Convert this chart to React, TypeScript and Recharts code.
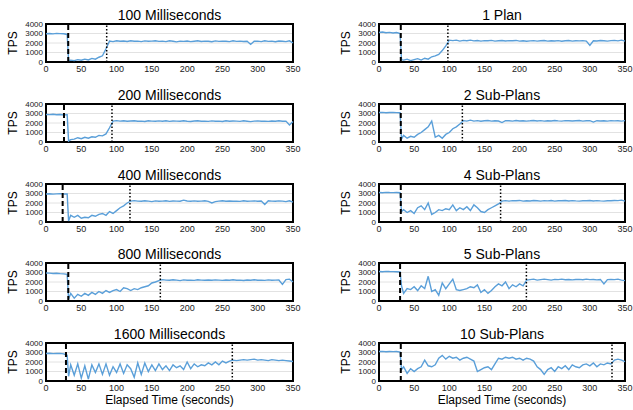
import React from "react";
import {
  LineChart,
  Line,
  XAxis,
  YAxis,
  CartesianGrid,
  ReferenceLine,
  ReferenceArea,
  Label,
} from "recharts";

// sample times (seconds); 32 is there to keep the drop after the switch sharp
const seconds = [
  0, 5, 10, 15, 20, 25, 30, 32,
  35, 40, 45, 50, 55, 60, 65, 70, 75, 80,
  85, 90, 95, 100, 105, 110, 115, 120, 125, 130,
  135, 140, 145, 150, 155, 160, 165, 170, 175, 180,
  185, 190, 195, 200, 205, 210, 215, 220, 225, 230,
  235, 240, 245, 250, 255, 260, 265, 270, 275, 280,
  285, 290, 295, 300, 305, 310, 315, 320, 325, 330,
  335, 340, 345, 350,
];

const ms100 = [
  2980, 3000, 2960, 3010, 2990, 2970, 2900, 150,
  200, 150, 250, 180, 300, 220, 380, 300, 500, 650,
  1400, 2200, 2150, 2230, 2180, 2210, 2160, 2240, 2190, 2200,
  2150, 2220, 2180, 2200, 2240, 2170, 2200, 2150, 2230, 2180,
  2120, 2200, 2170, 2210, 2150, 2190, 2230, 2160, 2200, 2180,
  2140, 2220, 2170, 2200, 2190, 2150, 2230, 2170, 2200, 2160,
  2190, 1850, 2180, 2200, 2150, 2230, 2170, 2200, 2140, 2210,
  2180, 2150, 2230, 2000,
];

const ms200 = [
  2900, 2880, 2920, 2870, 2900, 2850, 2880, 100,
  250, 300, 450, 350, 500, 400, 550, 500, 700, 650,
  850, 1500, 2200, 2250, 2200, 2230, 2180, 2210, 2240, 2190,
  2200, 2160, 2230, 2200, 2180, 2220, 2190, 2240, 2170, 2210,
  2200, 2180, 2230, 2190, 2160, 2210, 2230, 2180, 2200, 2170,
  2220, 2190, 2200, 2160, 2230, 2180, 2210, 2200, 2170, 2230,
  2190, 2150, 2200, 2220, 2180, 2200, 2170, 2210, 2190, 2230,
  2180, 2200, 1800, 2150,
];

const ms400 = [
  2950, 2980, 2930, 2960, 2990, 2940, 2950, 100,
  700, 500, 700, 400, 500, 450, 700, 600, 800, 900,
  700, 1100, 900, 1200, 1500, 1700, 2000, 2200, 2250, 2200,
  2180, 2230, 2200, 2150, 2220, 2190, 2200, 2240, 2170, 2210,
  2200, 2180, 2300, 2210, 2190, 2220, 2180, 2200, 2230, 2170,
  2000, 2150, 2200, 2230, 2180, 2210, 2190, 2200, 2170, 2230,
  2180, 2200, 2220, 2190, 2210, 1850, 2230, 2200, 2180, 2220,
  2200, 2150, 2230, 2100,
];

const ms800 = [
  2950, 2930, 2900, 2920, 2880, 2860, 2800, 200,
  800, 300, 700, 500, 800, 600, 900, 700, 1000, 800,
  1100, 900, 1100, 1200, 1000, 1400, 1300, 1100, 1300, 1200,
  1400, 1500, 1600, 1900, 2000, 2150, 2250, 2200, 2180, 2230,
  2200, 2150, 2220, 2190, 2200, 2170, 2230, 2200, 2180, 2210,
  2190, 2220, 2200, 2170, 2210, 2190, 2230, 2180, 2200, 2160,
  2210, 2190, 2230, 2180, 2200, 2170, 2220, 2190, 2200, 2210,
  1750, 2250, 2300, 2000,
];

const ms1600 = [
  2900, 2920, 2880, 2900, 2910, 2850, 2700, 500,
  1700, 600, 1800, 300, 1600, 200, 1700, 900, 1800, 700,
  1800, 600, 1500, 900, 1800, 800, 1700, 1300, 400, 1900,
  700, 1900, 1000, 1700, 1100, 1800, 1200, 1600, 1100, 1700,
  1400, 1600, 1200, 2000, 1300, 1800, 1500, 1700, 1600, 1900,
  1700, 2000, 1700, 2100, 1900, 2100, 2200, 2150, 2200, 2250,
  2200, 2250, 2300, 2200, 2250, 2200, 2150, 2250, 2200, 2150,
  2200, 2150, 2100, 2050,
];

const plan1 = [
  3100, 3150, 3080, 3120, 3050, 3100, 3000, 250,
  200, 300, 150, 250, 350, 200, 400, 300, 550, 650,
  800, 1200, 1700, 2300, 2250, 2300, 2200, 2280, 2240, 2300,
  2220, 2260, 2200, 2250, 2230, 2280, 2200, 2240, 2260, 2210,
  2250, 2230, 2270, 2200, 2240, 2180, 2220, 2250, 2200, 2230,
  2260, 2200, 2240, 2210, 2250, 2190, 2230, 2260, 2200, 2240,
  2220, 2250, 2200, 1750, 2240, 2210, 2260, 2230, 2200, 2250,
  2280, 2220, 2300, 2200,
];

const sub2 = [
  3100, 3120, 3080, 3100, 3110, 3090, 3080, 300,
  700, 400, 600, 500, 800, 1000, 1300, 1600, 2200, 500,
  700, 400, 800, 1000, 1400, 1600, 1900, 2250, 2200, 2300,
  2200, 2250, 2180, 2230, 2260, 2200, 2240, 2210, 2050, 2250,
  2230, 2200, 2260, 2210, 2240, 2200, 2230, 2270, 2210, 2250,
  2200, 2240, 2210, 2260, 2220, 2200, 2250, 2230, 2210, 2240,
  2260, 2200, 2230, 2250, 2100, 2240, 2210, 2230, 2200, 2250,
  2220, 2240, 2200, 2250,
];

const sub4 = [
  3100, 3080, 3120, 3100, 3090, 3110, 3080, 1100,
  1300, 1000, 1200, 900, 1500, 1700, 1300, 2000, 800, 1000,
  1300, 1200, 1400, 1300, 1800, 1200, 1500, 1300, 1600, 1200,
  1800, 1500, 1100, 1000, 1300, 1500, 1700, 1900, 2200, 2250,
  2200, 2250, 2230, 2270, 2200, 2240, 2210, 2260, 2230, 2200,
  2250, 2220, 2260, 2200, 2240, 2230, 2270, 2210, 2250, 2220,
  2200, 2240, 2230, 2260, 2210, 2250, 2220, 2200, 2240, 2230,
  2270, 2250, 2300, 2200,
];

const sub5 = [
  3100, 3080, 3120, 3100, 3090, 3080, 3050, 1600,
  800, 1300, 1200, 1500, 1100, 1600, 1300, 2600, 1000, 1200,
  600, 1900, 1300, 1800, 2300, 1200, 1100, 1200, 1300, 1500,
  1400, 1700, 900, 1200, 800, 1100, 1500, 1800, 1600, 2000,
  1300, 1700, 1500, 1800, 1600, 2200, 2250, 2300, 2200, 2250,
  2300, 2250, 2200, 2280, 2250, 2300, 2240, 2270, 2220, 2260,
  2280, 2240, 2300, 2250, 2260, 2220, 2270, 1800, 2250, 2280,
  2250, 2300, 2200, 2150,
];

const sub10 = [
  3100, 3120, 3080, 3100, 3090, 3110, 3050, 1200,
  1500, 800, 1300, 1000, 1300, 1500, 2200, 1600, 1500, 1700,
  2400, 2700, 2300, 2600, 2400, 2500, 2200, 2400, 2500, 2300,
  2100, 1000, 1200, 1400, 1500, 1200, 1800, 2400, 2300, 2500,
  2400, 2500, 2300, 2400, 2200, 2400, 2300, 2100, 1500, 1200,
  700, 1200, 1400, 1000, 1500, 1300, 1600, 1200, 1700, 1500,
  1400, 1700, 1800, 1600, 1900, 1500, 1800, 1700, 1900, 1800,
  2200, 2300, 2200, 2050,
];

// left column first, then right column
const seriesKeys = ["ms100", "ms200", "ms400", "ms800", "ms1600", "plan1", "sub2", "sub4", "sub5", "sub10"];
const titles = [
  "100 Milliseconds",
  "200 Milliseconds",
  "400 Milliseconds",
  "800 Milliseconds",
  "1600 Milliseconds",
  "1 Plan",
  "2 Sub-Plans",
  "4 Sub-Plans",
  "5 Sub-Plans",
  "10 Sub-Plans",
];
const switchAt = [31.5, 25.5, 23.6, 31.6, 28.3, 31, 31, 31, 30, 31];
const recoveredAt = [86, 93.5, 119, 162, 264, 98, 118.6, 173, 209.7, 331.5];

const xTicks = [0, 50, 100, 150, 200, 250, 300, 350];
const yTicks = [0, 1000, 2000, 3000, 4000];

const rows = seconds.map((t, i) => ({
  t,
  ms100: ms100[i],
  ms200: ms200[i],
  ms400: ms400[i],
  ms800: ms800[i],
  ms1600: ms1600[i],
  plan1: plan1[i],
  sub2: sub2[i],
  sub4: sub4[i],
  sub5: sub5[i],
  sub10: sub10[i],
}));

const FONT = '"Liberation Sans", Arial, Helvetica, sans-serif';
const BLUE = "#5a9fd9";
const PLOT_LEFT = [46, 379];
const PLOT_W = [247, 246];
const ROW_TOP = [24, 104, 184, 263, 343];
const PLOT_H = 38;

const TpsLabel = (props: any) => {
  const vb = props.viewBox;
  const cx = vb.x + 2.5;
  const cy = vb.y + vb.height / 2;
  return (
    <text
      x={cx}
      y={cy}
      transform={`rotate(-90 ${cx} ${cy})`}
      textAnchor="middle"
      dominantBaseline="central"
      fontSize={12}
      fill="#000"
      fontFamily={FONT}
    >
      TPS
    </text>
  );
};

const TimeLabel = (props: any) => {
  const vb = props.viewBox;
  return (
    <text x={vb.x + vb.width / 2} y={vb.y + 23} textAnchor="middle" fontSize={12} fill="#000" fontFamily={FONT}>
      Elapsed Time (seconds)
    </text>
  );
};

function Panel({ index }: { index: number }) {
  const col = index < 5 ? 0 : 1;
  const row = index % 5;
  const left = PLOT_LEFT[col];
  const top = ROW_TOP[row];
  const w = PLOT_W[col];
  const isBottom = row === 4;
  const xAxisH = isBottom ? 34 : 14;

  return (
    <>
      <div
        style={{
          position: "absolute",
          left: left - 20,
          width: w + 40,
          top: top - 17,
          height: 16,
          lineHeight: "16px",
          textAlign: "center",
          fontSize: 14,
          color: "#000",
        }}
      >
        {titles[index]}
      </div>
      <div style={{ position: "absolute", left: left - 46, top: top - 4 }}>
        <LineChart
          width={w + 60}
          height={4 + PLOT_H + xAxisH}
          data={rows}
          margin={{ top: 4, right: 14, bottom: 0, left: 10 }}
        >
          <CartesianGrid vertical={false} stroke="#e2e2e2" />
          <XAxis
            dataKey="t"
            type="number"
            domain={[0, 350]}
            ticks={xTicks}
            interval={0}
            height={xAxisH}
            axisLine={false}
            tickLine={false}
            tickSize={0}
            tickMargin={4}
            tick={{ fontSize: 9, fill: "#222", fontFamily: FONT }}
          >
            {isBottom && <Label content={TimeLabel} />}
          </XAxis>
          <XAxis
            xAxisId="top"
            orientation="top"
            mirror
            type="number"
            domain={[0, 350]}
            ticks={xTicks}
            interval={0}
            tick={false}
            tickSize={3}
            axisLine={false}
            tickLine={{ stroke: "#000", strokeWidth: 1 }}
          />
          <XAxis
            xAxisId="inner"
            orientation="bottom"
            mirror
            type="number"
            domain={[0, 350]}
            ticks={xTicks}
            interval={0}
            tick={false}
            tickSize={3}
            axisLine={false}
            tickLine={{ stroke: "#000", strokeWidth: 1 }}
          />
          <YAxis
            domain={[0, 4000]}
            ticks={yTicks}
            interval={0}
            width={36}
            axisLine={false}
            tickLine={false}
            tickSize={0}
            tickMargin={3}
            tick={{ fontSize: 8, fill: "#222", fontFamily: FONT }}
          >
            <Label content={TpsLabel} />
          </YAxis>
          <Line
            type="linear"
            dataKey={seriesKeys[index]}
            stroke={BLUE}
            strokeWidth={1.4}
            dot={false}
            isAnimationActive={false}
          />
          <ReferenceLine x={switchAt[index]} stroke="#000" strokeWidth={2} strokeDasharray="5 3" />
          <ReferenceLine x={recoveredAt[index]} stroke="#000" strokeWidth={1.5} strokeDasharray="1.5 2" />
          <ReferenceArea x1={0} x2={350} y1={0} y2={4000} fill="none" stroke="#000" strokeWidth={2} />
        </LineChart>
      </div>
    </>
  );
}

export default function App() {
  return (
    <div
      style={{
        position: "absolute",
        left: 0,
        top: 0,
        width: 633,
        height: 410,
        background: "#fff",
        fontFamily: FONT,
        overflow: "hidden",
      }}
    >
      {titles.map((_, i) => (
        <Panel key={i} index={i} />
      ))}
    </div>
  );
}
